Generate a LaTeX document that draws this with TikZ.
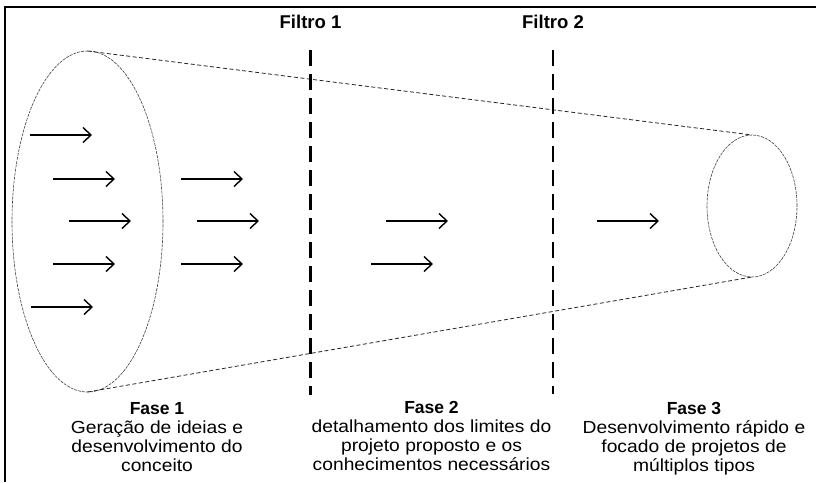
\documentclass[tikz,border=0pt]{standalone}
\usepackage{fontspec}
\setmainfont{Liberation Sans}
\newfontfamily\largofont[FakeStretch=1.1]{Liberation Sans}
\usetikzlibrary{arrows.meta,shapes.geometric}
\begin{document}
\begin{tikzpicture}[x=1pt, y=-1pt,
        boca/.style={ellipse, draw=black!75, line width=0.6pt, dash pattern=on 3pt off 1pt,
            inner sep=0pt, outer sep=0pt},
        cone/.style={black!85, line width=0.8pt, dash pattern=on 4pt off 2.5pt},
        barreira/.style={line width=2.6pt, dash pattern=on 16pt off 8pt},
        seta/.style={line width=1.4pt, -{Straight Barb[length=8pt, width=15pt, line width=1.4pt]}},
        filtro/.style={font=\fontsize{18.5}{20}\selectfont\bfseries, inner sep=0pt, anchor=base},
        fase/.style={align=center, inner sep=0pt, anchor=base,
            font=\fontsize{17.5}{19}\selectfont}
    ]
        \useasboundingbox (0,0) rectangle (816,482);
        % frame of the figure
        \draw[line width=2pt] (4.5,482) -- (4.5,6.5) -- (816,6.5);

        % funnel
        \node[boca, minimum width=151pt, minimum height=341pt] (entrada) at (87.5,221.5) {};
        \node[boca, minimum width=90pt, minimum height=142pt] (saida) at (752,206) {};
        \draw[cone] (entrada.north) -- (saida.north);
        \draw[cone] (entrada.south) -- (saida.south);

        % filters
        \node[filtro] (filtro1) at (310.5,28) {Filtro 1};
        \node[filtro] (filtro2) at (553,28) {Filtro 2};
        \draw[barreira] (filtro1.base |- 0,50) -- (filtro1.base |- 0,395);
        \draw[barreira] (filtro2.base |- 0,50) -- (filtro2.base |- 0,394);

        % ideas flowing through the funnel
        \foreach \x/\y in {
            30/135, 53/179, 69/221, 53/264, 31/307,
            181/179, 197/221, 181/264,
            386/221, 371/264,
            597/221
        } {
            \draw[seta] (\x,\y) -- ++(62,0);
        }

        % phases (base = last line)
        \node[fase] (fase1) at (157,471) {\textbf{Fase 1}\\
            {\largofont Geração de ideias e}\\
            {\largofont desenvolvimento do}\\
            {\largofont conceito}};
        \node[fase] (fase2) at (431.5,470) {\textbf{Fase 2}\\
            {\largofont detalhamento dos limites do}\\
            {\largofont projeto proposto e os}\\
            {\largofont conhecimentos necessários}};
        \node[fase] (fase3) at (694,471) {\textbf{Fase 3}\\
            {\largofont Desenvolvimento rápido e}\\
            {\largofont focado de projetos de}\\
            {\largofont múltiplos tipos}};
    \end{tikzpicture}
\end{document}
